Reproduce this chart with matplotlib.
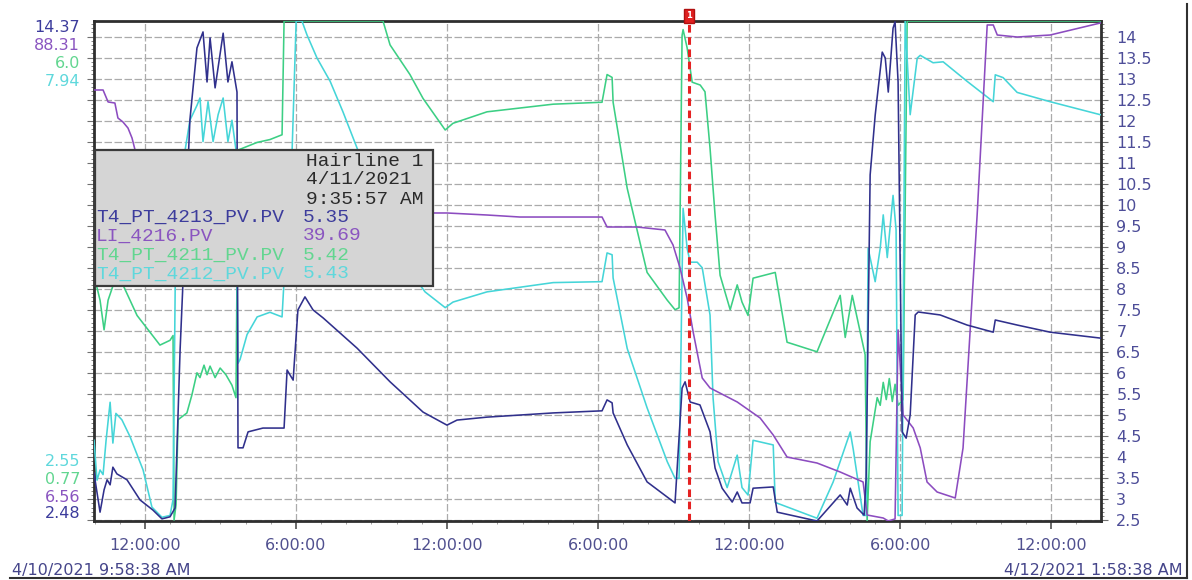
import matplotlib.pyplot as plt
import matplotlib.dates as mdates
from matplotlib.patches import Rectangle
from matplotlib.lines import Line2D
from matplotlib.ticker import MultipleLocator, FormatStrFormatter
import numpy as np
import pandas as pd

W, H = 1192, 580

start = pd.Timestamp('2021-04-10 09:58:38')
end = pd.Timestamp('2021-04-12 01:58:38')
hairline = pd.Timestamp('2021-04-11 09:35:57')

# ---- data: hours since start, values ----
navy_h = [0, 0.24, 0.40, 0.52, 0.64, 0.75, 0.91, 1.31, 1.83, 2.34, 2.70, 3.02, 3.22, 3.42, 3.81,
          4.09, 4.33, 4.49, 4.61, 4.81, 5.13, 5.32, 5.48, 5.68, 5.72, 5.92, 6.12, 6.71, 7.47, 7.55,
          7.67, 7.91, 8.10, 8.38, 8.70, 9.10, 10.45, 11.76, 13.07, 14.02, 14.42, 15.61, 18.24, 20.18,
          20.38, 20.58, 20.62, 21.18, 21.97, 23.08, 23.36, 23.48, 23.68, 24.07, 24.47, 24.67, 24.95,
          25.35, 25.55, 25.74, 26.06, 26.18, 26.98, 27.14, 28.72, 29.64, 29.92, 30.04, 30.31, 30.59,
          30.67, 30.83, 31.03, 31.31, 31.43, 31.55, 31.74, 31.82, 31.94, 32.10, 32.26, 32.42, 32.62,
          32.74, 33.61, 34.68, 35.72, 35.80, 36.67, 37.98, 39.97]
navy_v = [3.62, 2.69, 3.22, 3.46, 3.34, 3.76, 3.60, 3.46, 2.98, 2.74, 2.53, 2.58, 2.79, 6.55, 12.02,
          13.73, 14.11, 12.92, 13.97, 12.78, 14.08, 12.92, 13.40, 12.68, 4.22, 4.22, 4.60, 4.69, 4.69, 4.69,
          6.07, 5.83, 7.50, 7.81, 7.50, 7.31, 6.59, 5.79, 5.07, 4.76, 4.88, 4.95, 5.05, 5.10,
          5.36, 5.29, 5.05, 4.29, 3.41, 2.91, 5.64, 5.79, 5.31, 5.24, 4.60, 3.74, 3.26,
          2.93, 3.17, 2.91, 2.91, 3.26, 3.29, 2.69, 2.48, 3.10, 2.86, 3.26, 2.79, 2.62,
          3.50, 10.71, 12.13, 13.63, 13.49, 12.68, 14.20, 14.35, 12.92, 4.60, 4.45, 5.00, 7.38,
          7.45, 7.38, 7.14, 6.97, 7.26, 7.14, 6.97, 6.83]

purple_h = [0, 0.36, 0.56, 0.83, 0.95, 1.15, 1.35, 1.51, 1.63, 2.62, 4.21, 8.18, 12.95, 14.02, 15.61,
            16.92, 20.18, 20.38, 21.57, 22.68, 23.00, 23.28, 23.56, 23.80, 24.16, 24.47, 25.55, 26.46,
            26.98, 27.53, 28.72, 29.64, 30.55, 30.71, 31.35, 31.55, 31.82, 31.94, 32.14, 32.54, 32.82,
            33.09, 33.49, 34.21, 34.52, 35.08, 35.48, 35.72, 35.88, 36.67, 37.98, 39.97]
purple_v = [77.03, 77.03, 75.07, 74.90, 72.45, 71.80, 70.81, 69.18, 67.22, 61.50, 58.23, 57.41, 56.92, 56.92, 56.59,
            56.26, 56.26, 54.63, 54.63, 54.14, 51.69, 47.92, 43.02, 37.46, 29.94, 28.31, 26.02, 23.40,
            20.62, 17.02, 16.04, 14.57, 12.94, 7.54, 7.05, 6.56, 6.90, 37.80, 23.89, 21.77, 18.50,
            12.94, 11.30, 10.32, 18.50, 56.59, 87.66, 87.66, 86.02, 85.69, 86.02, 87.98]

green_h = [0, 0.12, 0.24, 0.40, 0.56, 0.83, 1.15, 1.71, 2.62, 3.02, 3.14, 3.18, 3.26, 3.34, 3.69,
           3.89, 4.09, 4.21, 4.37, 4.49, 4.61, 4.81, 5.01, 5.24, 5.48, 5.64, 5.72, 6.48, 6.99, 7.47,
           7.55, 11.48, 11.76, 12.55, 13.07, 13.95, 14.26, 15.61, 18.24, 20.18, 20.38, 20.58, 20.62,
           21.18, 21.97, 22.77, 23.08, 23.24, 23.36, 23.40, 23.56, 23.76, 24.08, 24.27, 24.47, 24.67,
           24.87, 25.27, 25.55, 25.74, 25.98, 26.18, 27.06, 27.53, 28.72, 29.64, 29.84, 30.12, 30.63,
           30.71, 30.83, 31.11, 31.23, 31.35, 31.47, 31.59, 31.71, 31.82, 31.94, 32.14, 32.30, 39.97]
green_v = [3.29, 3.21, 3.08, 2.77, 3.08, 3.29, 3.24, 2.92, 2.61, 2.66, 2.71, 0.78, 0.94, 1.83, 1.90,
           2.09, 2.32, 2.27, 2.40, 2.30, 2.39, 2.27, 2.37, 2.30, 2.19, 2.06, 4.65, 4.73, 4.76, 4.81,
           6.00, 6.00, 5.75, 5.44, 5.19, 4.86, 4.93, 5.05, 5.13, 5.15, 5.44, 5.41, 5.15,
           4.25, 3.37, 3.08, 2.98, 3.00, 5.85, 5.91, 5.72, 5.36, 5.33, 5.26, 4.67, 3.97,
           3.34, 2.98, 3.24, 3.06, 2.92, 3.31, 3.37, 2.64, 2.54, 3.13, 2.69, 3.13, 2.51,
           0.77, 1.60, 2.06, 1.98, 2.22, 2.04, 2.26, 2.02, 2.20, 1.98, 2.04, 6.00, 6.00]

cyan_h = [0, 0.12, 0.24, 0.36, 0.48, 0.64, 0.75, 0.87, 1.11, 1.43, 1.95, 2.30, 2.70, 3.02, 3.14,
          3.26, 3.62, 3.81, 4.09, 4.21, 4.33, 4.53, 4.73, 4.93, 5.13, 5.32, 5.48, 5.64, 5.72, 5.80,
          6.08, 6.48, 6.99, 7.47, 7.55, 7.87, 8.03, 8.26, 8.46, 8.86, 9.38, 9.89, 10.45, 11.36, 12.36,
          13.15, 13.95, 14.26, 15.61, 18.24, 20.18, 20.38, 20.58, 20.62, 21.18, 21.97, 22.77, 23.08,
          23.24, 23.40, 23.48, 23.56, 23.68, 23.96, 24.16, 24.47, 24.59, 24.79, 25.15, 25.55, 25.74,
          25.98, 26.18, 26.98, 27.06, 28.72, 29.36, 30.04, 30.16, 30.55, 30.67, 30.75, 31.03, 31.23,
          31.35, 31.51, 31.74, 31.86, 31.94, 32.10, 32.22, 32.42, 32.70, 32.82, 33.33, 33.73, 34.68,
          35.72, 35.80, 36.11, 36.67, 37.98, 39.97]
cyan_v = [3.42, 2.99, 3.10, 3.05, 3.42, 3.83, 3.39, 3.71, 3.64, 3.46, 3.10, 2.70, 2.59, 2.61, 2.78,
          6.01, 6.55, 6.87, 7.03, 7.11, 6.64, 7.07, 6.64, 6.93, 7.11, 6.64, 6.87, 6.55, 4.25, 4.29,
          4.56, 4.75, 4.80, 4.75, 5.15, 6.55, 7.94, 7.94, 7.79, 7.54, 7.29, 6.96, 6.57, 5.85, 5.31,
          5.02, 4.85, 4.91, 5.02, 5.12, 5.13, 5.44, 5.42, 5.17, 4.41, 3.77, 3.19, 3.01,
          3.01, 5.92, 5.71, 5.49, 5.34, 5.34, 5.28, 4.77, 3.88, 3.19, 2.91, 3.26, 2.91,
          2.83, 3.42, 3.37, 2.75, 2.58, 2.97, 3.51, 3.32, 2.61, 2.61, 5.49, 5.13, 5.49,
          5.85, 5.39, 6.06, 5.69, 2.61, 2.61, 7.94, 6.93, 7.54, 7.57, 7.49, 7.50, 7.29,
          7.07, 7.36, 7.33, 7.17, 7.07, 6.93]

tags = ['T4_PT_4213_PV.PV', 'LI_4216.PV', 'T4_PT_4211_PV.PV', 'T4_PT_4212_PV.PV']
hair_values = ['5.35', '39.69', '5.42', '5.43']
y_ranges = [(2.48, 14.37), (6.56, 88.31), (0.77, 6.0), (2.55, 7.94)]
top_labels = ['14.37', '88.31', '6.0', '7.94']
bottom_labels = ['2.55', '0.77', '6.56', '2.48']   # cyan, green, purple, navy

line_colors = ['#30308c', '#8c4cc0', '#3ccf84', '#45d5d8']
text_colors = ['#3c3c9c', '#8a55c0', '#62d690', '#5fd8dc']

series_h = [navy_h, purple_h, green_h, cyan_h]
series_v = [navy_v, purple_v, green_v, cyan_v]


def fx(px):
    return px / W


def fy(py):
    return 1 - py / H


fig = plt.figure(figsize=(W / 100, H / 100), dpi=100)
fig.patch.set_facecolor('white')

L, R, T, B = 94, 1101, 21, 521
ax = fig.add_axes([fx(L), fy(B), fx(R - L), (B - T) / H])

t0 = mdates.date2num(start)
t1 = mdates.date2num(end)
ax.set_xlim(t0, t1)
ax.set_ylim(*y_ranges[0])

# one scale per series, drawn in back-to-front order
order = [2, 3, 1, 0]
axes = {}
for i in order:
    tw = ax.twinx()
    tw.set_ylim(*y_ranges[i])
    tw.set_xlim(t0, t1)
    tw.axis('off')
    times = start + pd.to_timedelta(series_h[i], unit='h')
    tw.plot(mdates.date2num(times), series_v[i], color=line_colors[i], linewidth=1.15)
    axes[i] = tw

# ticks on the base axis (after twinx, which resets the side)
ax.yaxis.set_ticks_position('both')
ax.xaxis.set_major_locator(mdates.HourLocator(byhour=[0, 6, 12, 18]))
ax.xaxis.set_major_formatter(mdates.DateFormatter('%-I:%M:%S'))
ax.xaxis.set_minor_locator(mdates.HourLocator())
ax.set_yticks(np.arange(2.5, 14.01, 0.5))
ax.yaxis.set_major_formatter(FormatStrFormatter('%g'))
ax.yaxis.set_minor_locator(MultipleLocator(0.1))

ax.grid(True, which='major', color='#ababab', linestyle=(0, (6, 2)), linewidth=0.9)
ax.tick_params(axis='y', which='both', left=True, right=True, labelleft=False, labelright=True,
               direction='out', labelsize=11.5, labelcolor='#4d4d98', color='#707070')
ax.tick_params(axis='y', which='major', length=5, pad=6)
ax.tick_params(axis='y', which='minor', length=2.5)
ax.tick_params(axis='x', which='major', length=6, pad=6, labelsize=11.5, labelcolor='#50508f',
               color='#505050', width=1.2)
ax.tick_params(axis='x', which='minor', length=2.5, color='#909090')
for sp in ax.spines.values():
    sp.set_color('#2f2f2f')
    sp.set_linewidth(2)

top_ax = axes[0]
top_ax.axvline(mdates.date2num(hairline), color='#e52222', linewidth=2.2,
               linestyle=(0, (2.5, 1.5)), zorder=10)

# hairline marker
fig.text(fx(689), fy(16), '1', ha='center', va='center', fontsize=6, color='white',
         fontweight='bold', zorder=12,
         bbox=dict(boxstyle='square,pad=0.25', facecolor='#e02020', edgecolor='#b01010'))

# range labels at the left
for lbl, col, py in zip(top_labels, text_colors, [27, 46, 63, 81]):
    fig.text(fx(80), fy(py), lbl, ha='right', va='center', fontsize=11.5, color=col)
for lbl, col, py in zip(bottom_labels, [text_colors[3], text_colors[2], text_colors[1], text_colors[0]],
                        [462, 479, 497, 514]):
    fig.text(fx(80), fy(py), lbl, ha='right', va='center', fontsize=11.5, color=col)

# hairline info box
box = Rectangle((fx(95), fy(286)), fx(433 - 95), (286 - 150) / H, transform=fig.transFigure,
                facecolor='#d5d5d5', edgecolor='#3a3a3a', linewidth=1.6, zorder=8)
fig.add_artist(box)
mono = 'Liberation Mono'
head = ['Hairline 1', hairline.strftime('%-m/%d/%Y'), hairline.strftime('%-I:%M:%S %p')]
for k, s in enumerate(head):
    fig.text(fx(306), fy(161 + 19 * k), s, ha='left', va='center', family=mono, fontsize=14,
             color='#2b2b2b', zorder=9)
for k, (tag, val) in enumerate(zip(tags, hair_values)):
    py = 217 + 19 * k
    fig.text(fx(96), fy(py), tag, ha='left', va='center', family=mono, fontsize=14,
             color=text_colors[k], zorder=9)
    fig.text(fx(303), fy(py), val, ha='left', va='center', family=mono, fontsize=14,
             color=text_colors[k], zorder=9)

# start / end stamps and outer frame
fig.text(fx(12), fy(570), start.strftime('%-m/%d/%Y %-I:%M:%S %p'), ha='left', va='center',
         fontsize=11.5, color='#45458a')
fig.text(fx(1183), fy(570), end.strftime('%-m/%d/%Y %-I:%M:%S %p'), ha='right', va='center',
         fontsize=11.5, color='#45458a')
fig.add_artist(Line2D([fx(10), fx(1187)], [fy(578), fy(578)], transform=fig.transFigure,
                      color='#303030', linewidth=1.5))
fig.add_artist(Line2D([fx(1187), fx(1187)], [fy(4), fy(578)], transform=fig.transFigure,
                      color='#303030', linewidth=1.5))

fig.savefig('out.png', dpi=100)
